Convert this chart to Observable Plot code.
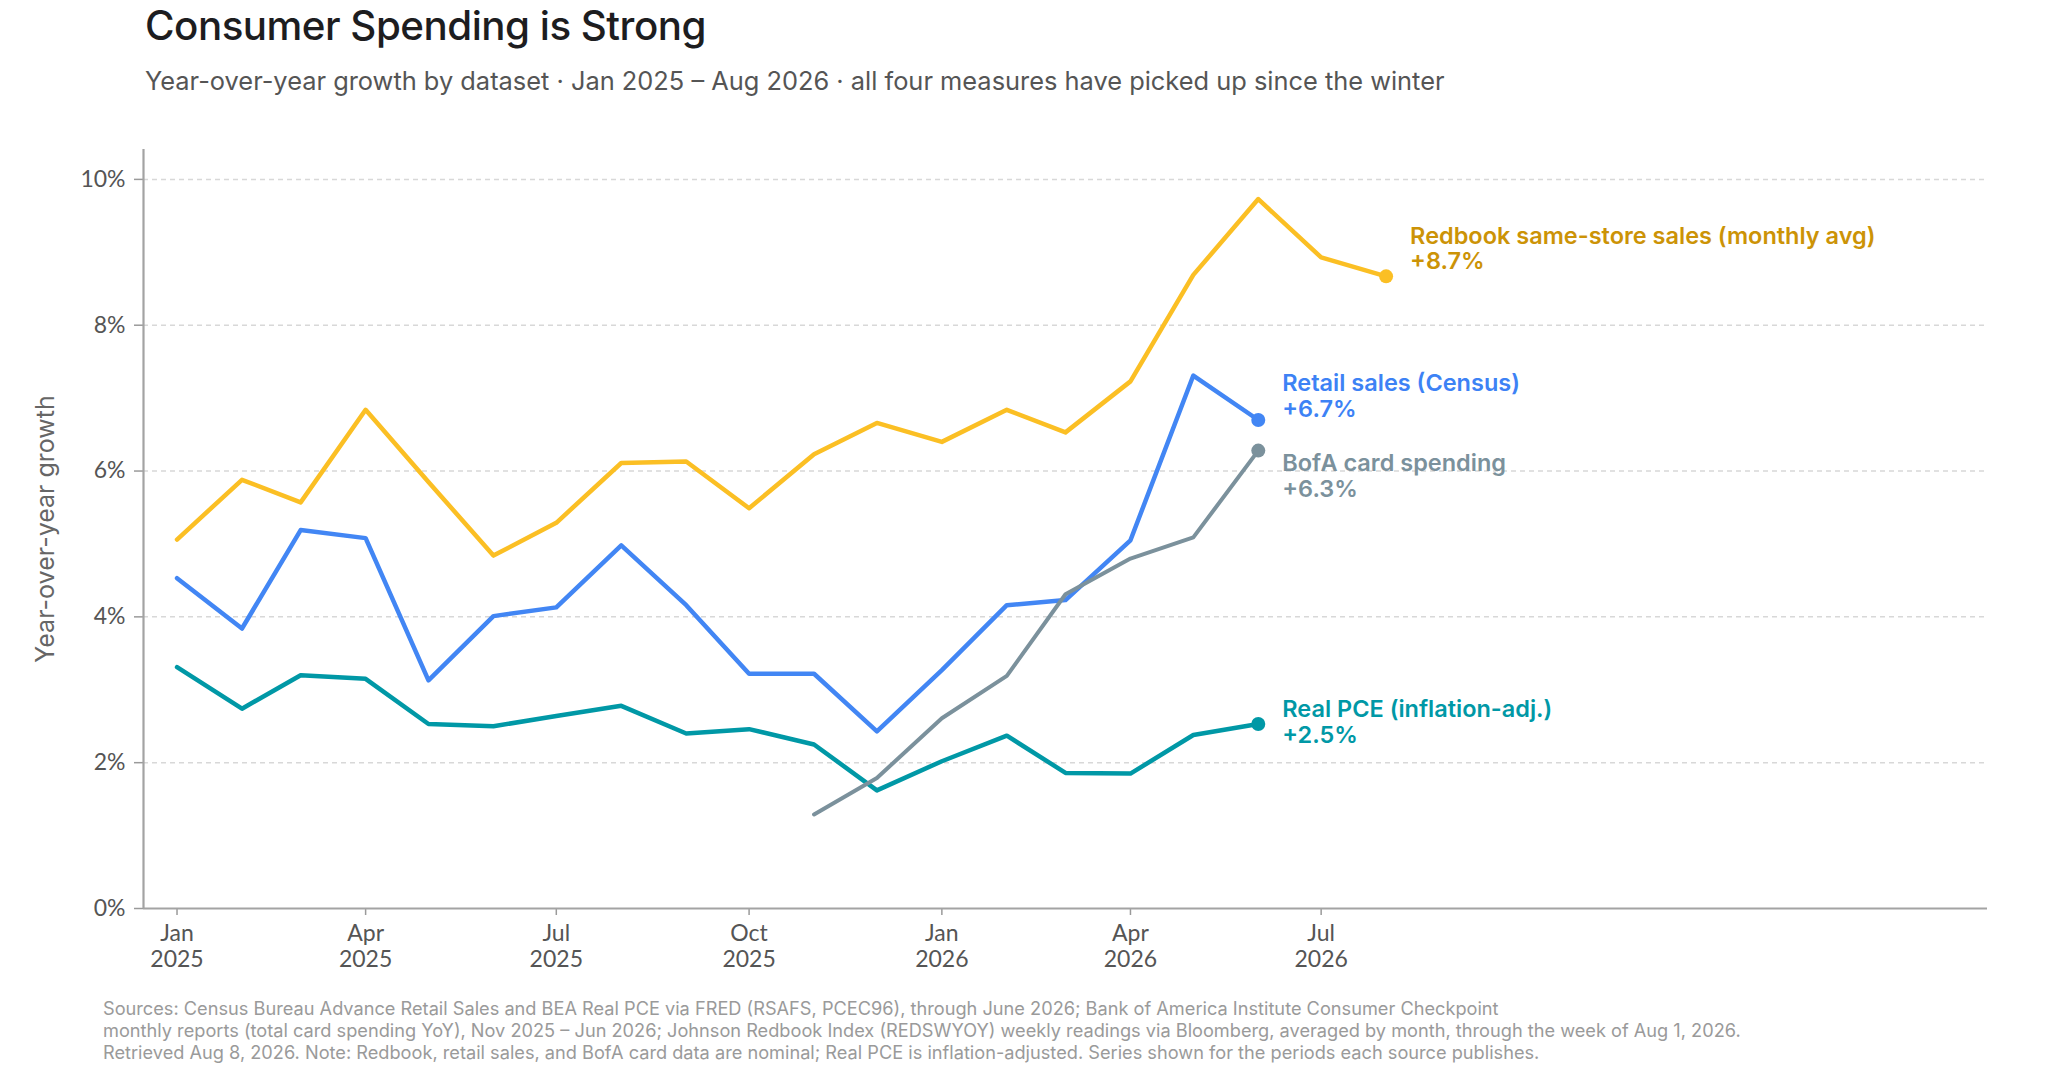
<!DOCTYPE html>
<html>
<head>
<meta charset="utf-8">
<script src="https://cdn.jsdelivr.net/npm/d3@7"></script>
<script src="https://cdn.jsdelivr.net/npm/@observablehq/plot@0.6"></script>
<style>
  html, body { margin: 0; padding: 0; background: #fff; }
  #wrap { position: relative; width: 2048px; height: 1069px; overflow: hidden; font-family: Inter, "Noto Sans", sans-serif; }
  #title { position: absolute; left: 145px; top: 2px; font-size: 40.3px; line-height: 48px; font-weight: 500; color: #1d1d1f; letter-spacing: -0.5px; white-space: nowrap; }
  #subtitle { position: absolute; left: 145px; top: 65px; font-size: 25.4px; line-height: 32px; color: #555; white-space: nowrap; }
  #chart { position: absolute; left: 0; top: 110px; }
  #caption { position: absolute; left: 103px; top: 997px; font-size: 18.2px; line-height: 22px; color: #9a9a9a; white-space: nowrap; }
</style>
</head>
<body>
<div id="wrap">
  <div id="title">Consumer Spending is Strong</div>
  <div id="subtitle">Year-over-year growth by dataset · Jan 2025 – Aug 2026 · all four measures have picked up since the winter</div>
  <div id="chart"></div>
  <div id="caption">Sources: Census Bureau Advance Retail Sales and BEA Real PCE via FRED (RSAFS, PCEC96), through June 2026; Bank of America Institute Consumer Checkpoint<br>monthly reports (total card spending YoY), Nov 2025 – Jun 2026; Johnson Redbook Index (REDSWYOY) weekly readings via Bloomberg, averaged by month, through the week of Aug 1, 2026.<br>Retrieved Aug 8, 2026. Note: Redbook, retail sales, and BofA card data are nominal; Real PCE is inflation-adjusted. Series shown for the periods each source publishes.</div>
</div>
<script>
// ---- data ----
const months = ["2025-01","2025-02","2025-03","2025-04","2025-05","2025-06","2025-07","2025-08","2025-09","2025-10",
                "2025-11","2025-12","2026-01","2026-02","2026-03","2026-04","2026-05","2026-06","2026-07","2026-08"];
const redbook = [5.06, 5.88, 5.57, 6.84, 5.85, 4.84, 5.29, 6.11, 6.13, 5.49, 6.23, 6.66, 6.40, 6.84, 6.53, 7.23, 8.69, 9.73, 8.93, 8.67];
const retail  = [4.53, 3.84, 5.19, 5.08, 3.13, 4.01, 4.13, 4.98, 4.16, 3.22, 3.22, 2.43, 3.27, 4.16, 4.23, 5.05, 7.31, 6.70, null, null];
const bofa    = [null, null, null, null, null, null, null, null, null, null, 1.29, 1.79, 2.61, 3.19, 4.31, 4.80, 5.09, 6.28, null, null];
const pce     = [3.31, 2.74, 3.20, 3.15, 2.53, 2.50, 2.64, 2.78, 2.40, 2.46, 2.25, 1.62, 2.02, 2.37, 1.86, 1.85, 2.38, 2.53, null, null];

const seriesNames = ["Redbook same-store sales (monthly avg)", "Retail sales (Census)", "BofA card spending", "Real PCE (inflation-adj.)"];
const seriesValues = [redbook, retail, bofa, pce];
const lineColors = ["#fbbf24", "#4286f4", "#7b919c", "#0098a6"];
const labelColors = ["#cc9306", "#3d82f5", "#7b919c", "#0098a6"];
const labelAnchors = ["bottom", "bottom", "top", "middle"];
const labelDy = [-7, -3, 2, -2];
const lineWidths = [4.5, 4.5, 4, 4.5];
const drawOrder = [0, 1, 3, 2];

const xTickMonths = ["2025-01","2025-04","2025-07","2025-10","2026-01","2026-04","2026-07"];
const yTicks = [0, 2, 4, 6, 8, 10];
const xDomainDays = ["2024-12-16", "2027-05-15"];
const yDomain = [0, 10.41];
const yLabel = "Year-over-year growth";

// ---- build ----
const parseM = d3.utcParse("%Y-%m");
const parseD = d3.utcParse("%Y-%m-%d");
const fmtX = d3.utcFormat("%b\n%Y");

const series = seriesNames.map((name, i) => {
  const pts = months.map((m, j) => ({date: parseM(m), value: seriesValues[i][j], series: name}))
                    .filter(d => d.value != null);
  return {name, pts, last: pts[pts.length - 1], i};
});

const xDomain = xDomainDays.map(parseD);

const marks = [
  Plot.gridY(yTicks.filter(d => d > 0), {stroke: "#d8d8d8", strokeOpacity: 1, strokeDasharray: "5,4", strokeWidth: 1.5}),
  Plot.axisY({ticks: yTicks, tickFormat: d => d + "%", tickSize: 9, tickPadding: 9, stroke: "#9a9a9a", strokeWidth: 1.5, fill: "#555", label: null}),
  Plot.axisX({ticks: xTickMonths.map(parseM), tickFormat: fmtX, tickSize: 7, tickPadding: 8, lineHeight: 1.1, stroke: "#9a9a9a", strokeWidth: 1.5, fill: "#555", label: null}),
  Plot.ruleY([yDomain[0]], {stroke: "#a3a3a3", strokeWidth: 2.2}),
  Plot.ruleX([xDomain[0]], {stroke: "#a3a3a3", strokeWidth: 2.2}),
  Plot.text([yLabel], {frameAnchor: "left", rotate: -90, dx: -98, fill: "#666", fontSize: 25, fontFamily: "Inter, sans-serif", textAnchor: "middle", lineAnchor: "middle"})
];

for (const k of drawOrder) {
  const s = series[k];
  marks.push(Plot.line(s.pts, {x: "date", y: "value", stroke: lineColors[k], strokeWidth: lineWidths[k], strokeLinejoin: "round", strokeLinecap: "round"}));
}
for (const s of series) {
  marks.push(Plot.dot([s.last], {x: "date", y: "value", r: 7, fill: lineColors[s.i], stroke: "none"}));
  marks.push(Plot.text([s.last], {
    x: "date", y: "value",
    text: d => `${s.name}\n+${d.value.toFixed(1)}%`,
    textAnchor: "start", lineAnchor: labelAnchors[s.i], dx: 24, dy: labelDy[s.i],
    fill: labelColors[s.i], fontSize: 23.5, fontWeight: 600, lineHeight: 1.1,
    fontFamily: "Inter, sans-serif"
  }));
}

const chart = Plot.plot({
  width: 2048, height: 880,
  marginLeft: 143, marginRight: 61, marginTop: 39, marginBottom: 82,
  style: {fontFamily: "Lato, sans-serif", fontSize: "23px", color: "#555", background: "#fff", overflow: "visible"},
  x: {type: "utc", domain: xDomain},
  y: {domain: yDomain},
  marks
});
document.getElementById("chart").appendChild(chart);
</script>
</body>
</html>
